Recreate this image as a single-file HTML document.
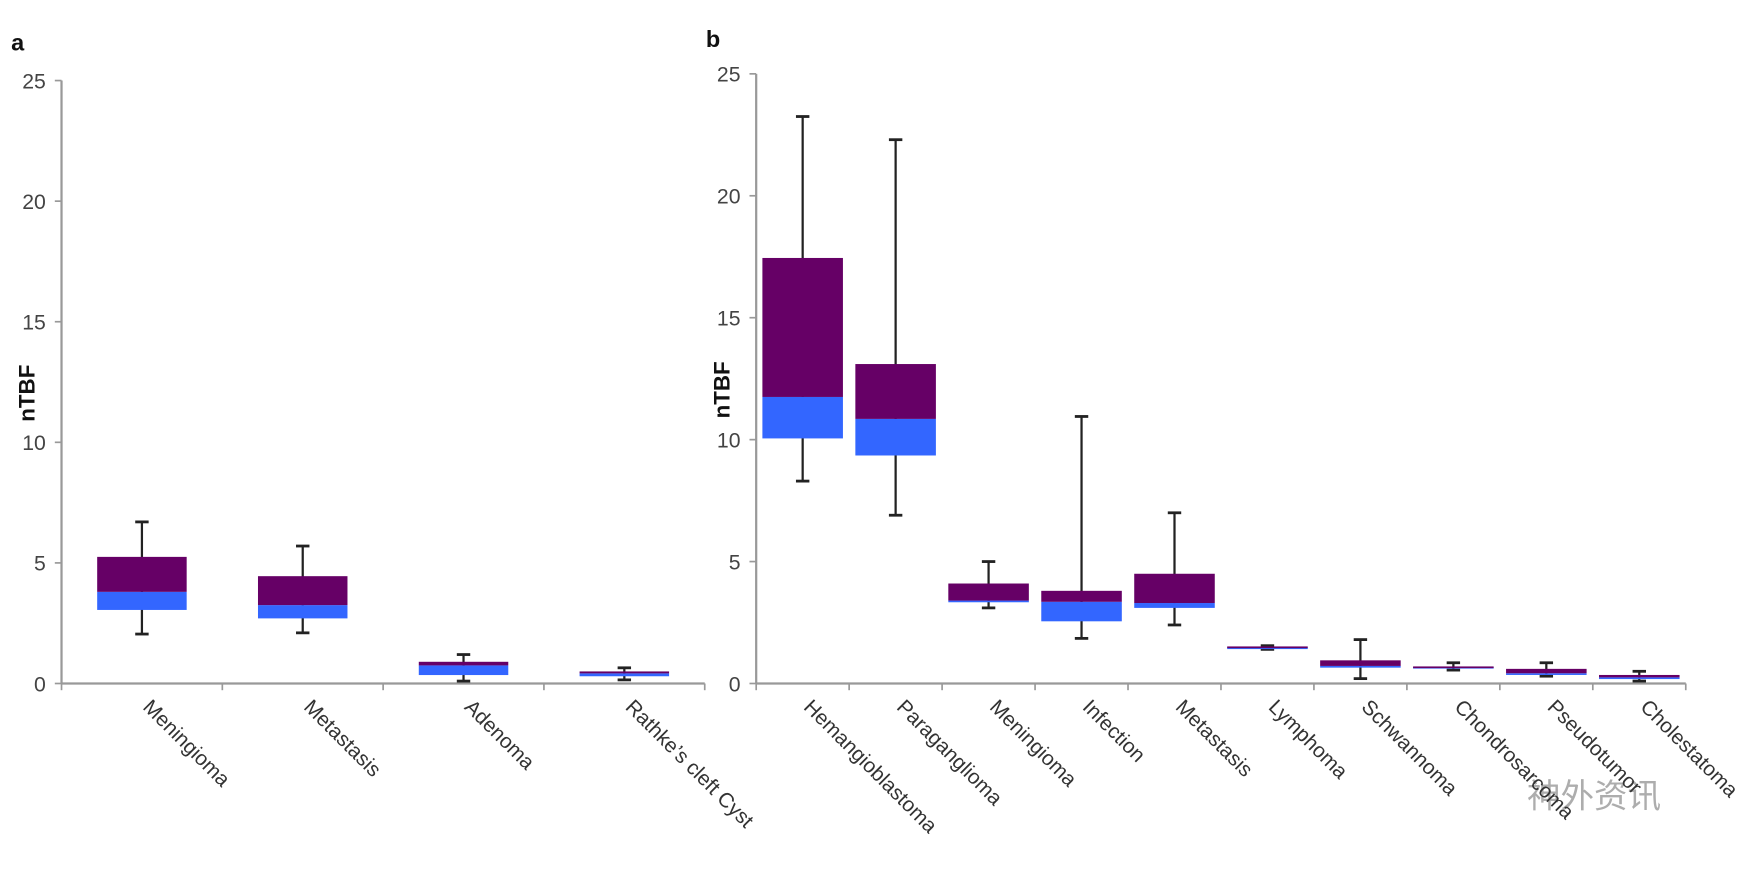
<!DOCTYPE html>
<html><head><meta charset="utf-8"><style>
html,body{margin:0;padding:0;background:#fff;}
svg{display:block;font-family:"Liberation Sans","Noto Sans CJK SC",sans-serif;}
</style></head><body>
<svg id="chart" width="1754" height="872" viewBox="0 0 1568 779.5" xmlns="http://www.w3.org/2000/svg">
<text x="10" y="45" font-size="21" font-weight="bold" fill="#111">a</text>
<text x="631" y="42" font-size="21" font-weight="bold" fill="#111">b</text>
<text x="1365" y="722" font-size="30" fill="#999" opacity="0.8">神外资讯</text>
<g id="pa"></g>
<g id="pb"></g>
</svg>
<script>
const catsA = ["Meningioma","Metastasis","Adenoma","Rathke’s cleft Cyst"];
const lowA = [2.05,2.1,0.1,0.15];
const q1A = [3.05,2.7,0.35,0.3];
const medA = [3.8,3.25,0.75,0.42];
const q3A = [5.25,4.45,0.9,0.5];
const highA = [6.7,5.7,1.2,0.65];

const catsB = ["Hemangioblastoma","Paraganglioma","Meningioma","Infection","Metastasis","Lymphoma","Schwannoma","Chondrosarcoma","Pseudotumor","Cholestatoma"];
const lowB = [8.3,6.9,3.1,1.85,2.4,1.4,0.2,0.55,0.3,0.1];
const q1B = [10.05,9.35,3.35,2.55,3.1,1.45,0.65,0.65,0.35,0.2];
const medB = [11.75,10.85,3.4,3.35,3.3,1.48,0.72,0.68,0.42,0.25];
const q3B = [17.45,13.1,4.1,3.8,4.5,1.52,0.95,0.7,0.6,0.35];
const highB = [23.25,22.3,5.0,10.95,7.0,1.55,1.8,0.85,0.85,0.5];

const yTicks = [0,5,10,15,20,25];
const NS="http://www.w3.org/2000/svg";
function mk(parent,tag,attrs){const e=document.createElementNS(NS,tag);for(const k in attrs)e.setAttribute(k,attrs[k]);parent.appendChild(e);return e;}

function panel(g,cfg,cats,low,q1,med,q3,high,pfx){
  const y=v=>cfg.y0-(cfg.y0-cfg.y25)*v/25;
  const step=(cfg.x1-cfg.x0)/cats.length;
  const x=i=>cfg.x0+step*(i+0.5);
  let l=mk(g,'line',{x1:cfg.x0,y1:y(0),x2:cfg.x0,y2:y(25),stroke:'#999','stroke-width':2});
  
  
  l=mk(g,'line',{x1:cfg.x0,y1:y(0),x2:cfg.x1,y2:y(0),stroke:'#999','stroke-width':2});
  
  
  yTicks.forEach(t=>{
    const tk=mk(g,'line',{x1:cfg.x0-6,y1:y(t),x2:cfg.x0,y2:y(t),stroke:'#999','stroke-width':1.5});
    
    
    const tx=mk(g,'text',{x:cfg.x0-14,y:y(t)+7,'text-anchor':'end','font-size':19,fill:'#444'});
    tx.textContent=t;
    
    
  });
  for(let i=0;i<=cats.length;i++){
    const tk=mk(g,'line',{x1:cfg.x0+step*i,y1:y(0),x2:cfg.x0+step*i,y2:y(0)+6,stroke:'#999','stroke-width':1.5});
    
    
  }
  const yt=mk(g,'text',{x:0,y:0,'font-size':20,'font-weight':'bold',fill:'#111','text-anchor':'middle',transform:`translate(${cfg.x0-24},${(y(0)+y(25))/2+10}) rotate(-90)`});
  yt.textContent='nTBF';
  
  
  const hw=cfg.bw/2;
  cats.forEach((c,i)=>{
    const cx=x(i);
    const w=mk(g,'line',{x1:cx,y1:y(high[i]),x2:cx,y2:y(low[i]),stroke:'#222','stroke-width':2});
    
    
    [high[i],low[i]].forEach(v=>{
      const cp=mk(g,'line',{x1:cx-6,y1:y(v),x2:cx+6,y2:y(v),stroke:'#222','stroke-width':2.5});
      
      
    });
    const b1=mk(g,'rect',{x:cx-hw,y:y(med[i]),width:cfg.bw,height:Math.max(1.5,y(q1[i])-y(med[i])),fill:'#3366ff'});
    
    
    const b2=mk(g,'rect',{x:cx-hw,y:y(q3[i]),width:cfg.bw,height:Math.max(1.5,y(med[i])-y(q3[i])),fill:'#660066'});
    
    
    const lb=mk(g,'text',{x:0,y:0,'font-size':18.5,fill:'#333',transform:`translate(${cx},${y(0)+22}) rotate(45)`});
    lb.textContent=c;
    
    
  });
}
panel(document.getElementById('pa'),{x0:55,x1:630,y0:611,y25:72,bw:80},catsA,lowA,q1A,medA,q3A,highA,'panel-a');
panel(document.getElementById('pb'),{x0:676,x1:1507,y0:611,y25:66,bw:72},catsB,lowB,q1B,medB,q3B,highB,'panel-b');
</script>
</body></html>
